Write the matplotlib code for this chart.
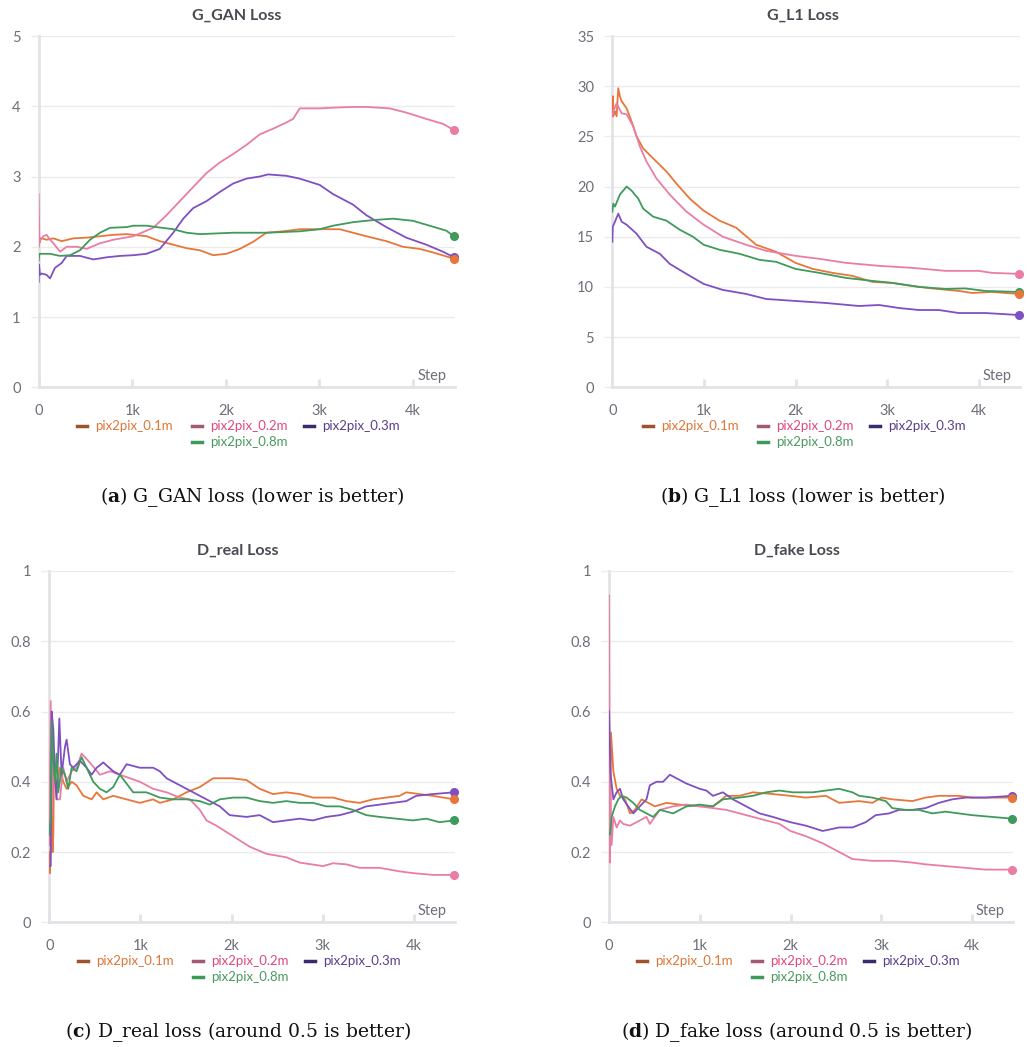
import matplotlib
matplotlib.use("Agg")
import matplotlib.pyplot as plt
from matplotlib.transforms import offset_copy
from matplotlib.lines import Line2D

plt.rcParams['font.family'] = ['Lato', 'DejaVu Sans']
plt.rcParams['mathtext.fontset'] = 'dejavuserif'

W, H = 1028, 1047

names = ["pix2pix_0.1m", "pix2pix_0.2m", "pix2pix_0.3m", "pix2pix_0.8m"]
line_colors = ["#E8763A", "#EA7DA5", "#7E50C2", "#3F9A5B"]
text_colors = ["#E07535", "#E0487E", "#5A3E8C", "#4A9A60"]
swatch_colors = ["#A0522D", "#A35875", "#3B2A6E", "#3E9A5A"]

# ---- G_GAN loss (step, value) ----
gan_01 = [(0, 2.0), (7, 2.12), (32, 2.12), (85, 2.1), (157, 2.12), (246, 2.08), (370, 2.12),
          (512, 2.13), (655, 2.15), (797, 2.17), (940, 2.18), (1011, 2.17), (1153, 2.15),
          (1295, 2.08), (1438, 2.03), (1580, 1.98), (1723, 1.95), (1865, 1.88), (2007, 1.9),
          (2150, 1.97), (2292, 2.07), (2434, 2.2), (2612, 2.22), (2790, 2.25), (3004, 2.25),
          (3217, 2.25), (3360, 2.2), (3502, 2.15), (3716, 2.08), (3894, 2.0), (4072, 1.97),
          (4214, 1.92), (4440, 1.83)]
gan_02 = [(0, 2.75), (7, 2.05), (21, 2.1), (50, 2.15), (85, 2.17), (121, 2.1), (157, 2.05),
          (228, 1.93), (299, 2.0), (406, 2.0), (512, 1.97), (655, 2.05), (797, 2.1), (1011, 2.15),
          (1224, 2.27), (1367, 2.45), (1509, 2.65), (1651, 2.85), (1794, 3.05), (1936, 3.2),
          (2078, 3.32), (2221, 3.45), (2363, 3.6), (2505, 3.68), (2648, 3.77), (2719, 3.82),
          (2790, 3.97), (3004, 3.97), (3146, 3.98), (3360, 3.99), (3502, 3.99), (3751, 3.97),
          (3929, 3.91), (4143, 3.82), (4321, 3.75), (4440, 3.66)]
gan_03 = [(0, 1.5), (3, 1.75), (14, 1.6), (32, 1.62), (85, 1.6), (121, 1.55), (174, 1.7),
          (246, 1.77), (299, 1.87), (441, 1.87), (584, 1.82), (726, 1.85), (868, 1.87),
          (1011, 1.88), (1153, 1.9), (1295, 1.97), (1438, 2.2), (1545, 2.4), (1651, 2.55),
          (1794, 2.65), (1936, 2.78), (2078, 2.9), (2221, 2.97), (2363, 3.0), (2452, 3.03),
          (2648, 3.01), (2790, 2.97), (3004, 2.88), (3146, 2.75), (3360, 2.6), (3502, 2.45),
          (3716, 2.28), (3929, 2.13), (4143, 2.03), (4321, 1.93), (4440, 1.85)]
gan_08 = [(0, 1.8), (7, 1.9), (50, 1.9), (121, 1.9), (228, 1.87), (335, 1.88), (441, 1.95),
          (548, 2.1), (655, 2.2), (762, 2.27), (940, 2.28), (1011, 2.3), (1153, 2.3),
          (1260, 2.28), (1438, 2.25), (1580, 2.2), (1723, 2.18), (2078, 2.2), (2434, 2.2),
          (2790, 2.22), (3004, 2.25), (3146, 2.3), (3360, 2.35), (3573, 2.38), (3787, 2.4),
          (4000, 2.37), (4178, 2.3), (4356, 2.23), (4440, 2.15)]

# ---- G_L1 loss ----
l1_01 = [(0, 27.0), (5, 29.0), (11, 27.0), (29, 27.5), (47, 27.0), (65, 29.8), (83, 29.0),
         (102, 28.5), (156, 27.8), (210, 26.5), (265, 25.0), (337, 23.8), (446, 22.8),
         (591, 21.5), (700, 20.3), (845, 18.8), (997, 17.6), (1171, 16.6), (1352, 15.9),
         (1570, 14.2), (1788, 13.5), (1998, 12.4), (2187, 11.8), (2404, 11.4), (2622, 11.1),
         (2839, 10.5), (3057, 10.4), (3274, 10.1), (3492, 9.85), (3782, 9.6), (3927, 9.4),
         (4145, 9.5), (4440, 9.3)]
l1_02 = [(0, 27.0), (11, 27.5), (47, 28.3), (102, 27.3), (156, 27.2), (228, 26.0), (301, 24.0),
         (373, 22.5), (482, 20.8), (627, 19.2), (809, 17.5), (997, 16.2), (1207, 15.0),
         (1461, 14.2), (1679, 13.6), (1998, 13.1), (2259, 12.8), (2549, 12.4), (2912, 12.1),
         (3274, 11.9), (3637, 11.6), (3999, 11.6), (4145, 11.4), (4440, 11.3)]
l1_03 = [(0, 14.5), (5, 16.0), (29, 16.5), (65, 17.3), (102, 16.5), (156, 16.2), (265, 15.3),
         (373, 14.0), (519, 13.3), (627, 12.3), (772, 11.5), (997, 10.3), (1207, 9.7),
         (1461, 9.3), (1679, 8.8), (1998, 8.6), (2332, 8.4), (2694, 8.1), (2912, 8.2),
         (3129, 7.9), (3347, 7.7), (3564, 7.7), (3782, 7.4), (4072, 7.4), (4440, 7.2)]
l1_08 = [(0, 17.5), (11, 18.3), (29, 18.0), (83, 19.2), (156, 20.0), (210, 19.6), (283, 18.8),
         (337, 17.8), (446, 17.0), (591, 16.6), (736, 15.7), (881, 15.0), (997, 14.2),
         (1171, 13.7), (1389, 13.3), (1606, 12.7), (1788, 12.5), (1998, 11.8), (2259, 11.4),
         (2549, 10.9), (2839, 10.6), (3057, 10.4), (3347, 10.0), (3637, 9.8), (3854, 9.85),
         (4072, 9.6), (4440, 9.5)]

# ---- D_real loss ----
dr_01 = [(0, 0.2), (7, 0.14), (15, 0.2), (26, 0.38), (37, 0.2), (44, 0.25), (51, 0.42),
         (80, 0.38), (117, 0.44), (153, 0.4), (190, 0.38), (245, 0.4), (299, 0.39), (373, 0.36),
         (464, 0.35), (519, 0.37), (592, 0.35), (701, 0.36), (847, 0.35), (993, 0.34),
         (1139, 0.35), (1212, 0.34), (1359, 0.35), (1505, 0.37), (1651, 0.385), (1797, 0.41),
         (2001, 0.41), (2162, 0.405), (2308, 0.38), (2454, 0.365), (2600, 0.37), (2746, 0.365),
         (2892, 0.355), (3112, 0.355), (3258, 0.345), (3404, 0.34), (3550, 0.35), (3696, 0.355),
         (3842, 0.36), (3915, 0.37), (4061, 0.365), (4207, 0.36), (4440, 0.35)]
dr_02 = [(0, 0.22), (15, 0.63), (26, 0.3), (44, 0.45), (80, 0.35), (117, 0.35), (153, 0.44),
         (190, 0.4), (245, 0.43), (299, 0.44), (354, 0.48), (427, 0.46), (555, 0.42), (665, 0.43),
         (774, 0.42), (884, 0.41), (993, 0.4), (1139, 0.38), (1286, 0.37), (1432, 0.355),
         (1541, 0.35), (1651, 0.32), (1724, 0.29), (1833, 0.275), (2016, 0.245), (2199, 0.215),
         (2381, 0.195), (2600, 0.185), (2746, 0.17), (3002, 0.16), (3112, 0.168), (3258, 0.165),
         (3404, 0.155), (3623, 0.155), (3842, 0.145), (3988, 0.14), (4207, 0.135), (4440, 0.135)]
dr_03 = [(0, 0.16), (15, 0.16), (26, 0.6), (44, 0.55), (62, 0.42), (80, 0.35), (110, 0.58),
         (135, 0.42), (172, 0.5), (190, 0.52), (226, 0.45), (263, 0.44), (336, 0.46), (409, 0.44),
         (464, 0.42), (519, 0.44), (592, 0.455), (701, 0.43), (774, 0.42), (847, 0.45),
         (993, 0.44), (1139, 0.44), (1212, 0.43), (1286, 0.41), (1432, 0.39), (1578, 0.37),
         (1724, 0.35), (1870, 0.33), (1979, 0.305), (2162, 0.30), (2308, 0.305), (2454, 0.285),
         (2600, 0.29), (2746, 0.295), (2892, 0.29), (3039, 0.30), (3185, 0.305), (3331, 0.315),
         (3477, 0.33), (3623, 0.335), (3769, 0.34), (3915, 0.345), (4025, 0.36), (4207, 0.365),
         (4440, 0.37)]
dr_08 = [(0, 0.25), (15, 0.3), (26, 0.57), (44, 0.45), (62, 0.4), (80, 0.48), (99, 0.37),
         (135, 0.44), (172, 0.42), (208, 0.38), (245, 0.44), (299, 0.43), (354, 0.47),
         (409, 0.44), (482, 0.4), (555, 0.38), (628, 0.37), (701, 0.385), (774, 0.42),
         (847, 0.395), (920, 0.37), (1066, 0.37), (1212, 0.355), (1359, 0.35), (1505, 0.35),
         (1651, 0.345), (1760, 0.335), (1870, 0.35), (2016, 0.355), (2162, 0.355), (2308, 0.345),
         (2454, 0.34), (2600, 0.345), (2746, 0.34), (2892, 0.34), (3039, 0.33), (3185, 0.33),
         (3331, 0.32), (3477, 0.305), (3623, 0.3), (3805, 0.295), (3988, 0.29), (4134, 0.295),
         (4280, 0.285), (4440, 0.29)]

# ---- D_fake loss ----
df_01 = [(0, 0.2), (11, 0.2), (22, 0.54), (48, 0.43), (84, 0.38), (121, 0.36), (176, 0.35),
         (231, 0.31), (285, 0.32), (359, 0.35), (432, 0.34), (505, 0.33), (633, 0.34),
         (779, 0.335), (999, 0.33), (1145, 0.33), (1292, 0.36), (1438, 0.36), (1584, 0.37),
         (1804, 0.365), (1998, 0.36), (2169, 0.355), (2389, 0.36), (2536, 0.34), (2755, 0.345),
         (2902, 0.34), (3000, 0.355), (3121, 0.35), (3341, 0.345), (3487, 0.355), (3633, 0.36),
         (3853, 0.36), (3999, 0.355), (4219, 0.355), (4440, 0.355)]
df_02 = [(0, 0.93), (11, 0.17), (14, 0.38), (29, 0.22), (48, 0.3), (84, 0.27), (121, 0.29),
         (157, 0.28), (231, 0.275), (340, 0.29), (413, 0.3), (450, 0.28), (560, 0.32),
         (706, 0.33), (853, 0.335), (999, 0.33), (1145, 0.325), (1292, 0.32), (1438, 0.31),
         (1584, 0.3), (1731, 0.29), (1877, 0.28), (1998, 0.26), (2169, 0.245), (2353, 0.225),
         (2536, 0.2), (2682, 0.18), (2902, 0.175), (3121, 0.175), (3341, 0.17), (3487, 0.165),
         (3707, 0.16), (3926, 0.155), (4146, 0.15), (4440, 0.15)]
df_03 = [(0, 0.6), (18, 0.42), (48, 0.35), (84, 0.37), (121, 0.38), (157, 0.35), (212, 0.33),
         (267, 0.31), (340, 0.33), (413, 0.35), (450, 0.39), (523, 0.4), (596, 0.4), (670, 0.42),
         (743, 0.41), (853, 0.395), (999, 0.38), (1072, 0.375), (1145, 0.36), (1255, 0.37),
         (1365, 0.35), (1511, 0.33), (1658, 0.31), (1804, 0.3), (1998, 0.285), (2169, 0.275),
         (2353, 0.26), (2536, 0.27), (2682, 0.27), (2828, 0.285), (2938, 0.305), (3085, 0.31),
         (3194, 0.32), (3341, 0.32), (3487, 0.325), (3633, 0.34), (3780, 0.35), (3926, 0.355),
         (4146, 0.355), (4440, 0.36)]
df_08 = [(0, 0.25), (11, 0.25), (29, 0.3), (66, 0.33), (102, 0.35), (139, 0.36), (194, 0.355),
         (267, 0.34), (340, 0.32), (413, 0.31), (487, 0.3), (560, 0.32), (706, 0.31),
         (853, 0.33), (999, 0.335), (1145, 0.33), (1255, 0.35), (1438, 0.355), (1584, 0.36),
         (1731, 0.37), (1877, 0.375), (2023, 0.37), (2243, 0.37), (2389, 0.375), (2536, 0.38),
         (2682, 0.37), (2755, 0.36), (2902, 0.355), (3048, 0.345), (3121, 0.325), (3268, 0.32),
         (3414, 0.32), (3560, 0.31), (3707, 0.315), (3853, 0.31), (3999, 0.305), (4219, 0.3),
         (4440, 0.295)]

xticks = [0, 1000, 2000, 3000, 4000]
xtick_labels = ["0", "1k", "2k", "3k", "4k"]

panels = [
    dict(title="G_GAN Loss", series=[gan_01, gan_02, gan_03, gan_08],
         yticks=[0, 1, 2, 3, 4, 5], ylabels=["0", "1", "2", "3", "4", "5"],
         rect=(38.7, 36, 455, 387.3), cx=237,
         caption=r"($\mathbf{a}$) G_GAN loss (lower is better)", capx=252, capy=497),
    dict(title="G_L1 Loss", series=[l1_01, l1_02, l1_03, l1_08],
         yticks=[0, 5, 10, 15, 20, 25, 30, 35], ylabels=["0", "5", "10", "15", "20", "25", "30", "35"],
         rect=(612.3, 36, 1020, 387.3), cx=803,
         caption=r"($\mathbf{b}$) G_L1 loss (lower is better)", capx=803, capy=497),
    dict(title="D_real Loss", series=[dr_01, dr_02, dr_03, dr_08],
         yticks=[0, 0.2, 0.4, 0.6, 0.8, 1], ylabels=["0", "0.2", "0.4", "0.6", "0.8", "1"],
         rect=(49.3, 571, 455, 922.3), cx=238,
         caption=r"($\mathbf{c}$) D_real loss (around 0.5 is better)", capx=238, capy=1032),
    dict(title="D_fake Loss", series=[df_01, df_02, df_03, df_08],
         yticks=[0, 0.2, 0.4, 0.6, 0.8, 1], ylabels=["0", "0.2", "0.4", "0.6", "0.8", "1"],
         rect=(609, 571, 1013, 922.3), cx=797,
         caption=r"($\mathbf{d}$) D_fake loss (around 0.5 is better)", capx=797, capy=1032),
]

grid_c = "#ebebee"
axis_c = "#e3e3e7"
tick_txt = "#6f6f79"


def fx(px):
    return px / W


def fy(py):
    return 1 - py / H


fig = plt.figure(figsize=(W / 100, H / 100), dpi=100)

for p in panels:
    x0, y0, x1, y1 = p["rect"]
    ax = fig.add_axes([fx(x0), fy(y1), (x1 - x0) / W, (y1 - y0) / H])
    # draw order: purple, green, orange, pink
    for k in [2, 3, 0, 1]:
        s = p["series"][k]
        xs = [a for a, b in s]
        ys = [b for a, b in s]
        ax.plot(xs, ys, color=line_colors[k], lw=1.3, zorder=3 + k * 0.1, solid_joinstyle="round")
        ax.plot(xs[-1:], ys[-1:], "o", color=line_colors[k], ms=5.5, zorder=4, clip_on=False)

    ax.set_xlim(0, 4450)
    ax.set_ylim(p["yticks"][0], p["yticks"][-1])
    ax.set_xticks(xticks)
    ax.set_xticklabels(xtick_labels)
    ax.set_yticks(p["yticks"])
    ax.set_yticklabels(p["ylabels"])
    ax.grid(axis="y", color=grid_c, lw=1.0)
    ax.set_axisbelow(True)
    for side in ["top", "right"]:
        ax.spines[side].set_visible(False)
    ax.spines["left"].set_color(axis_c)
    ax.spines["left"].set_linewidth(2.0)
    ax.spines["bottom"].set_color(axis_c)
    ax.spines["bottom"].set_linewidth(2.0)
    ax.tick_params(axis="x", direction="in", length=6, width=2, color=axis_c,
                   labelsize=10.5, labelcolor=tick_txt, pad=12)
    ax.tick_params(axis="y", direction="out", length=6, width=1, color=grid_c,
                   labelsize=10.5, labelcolor=tick_txt, pad=7)

    tr = offset_copy(ax.transAxes, fig=fig, x=-8, y=11, units="dots")
    ax.text(1, 0, "Step", transform=tr, ha="right", va="center", fontsize=10.5, color=tick_txt)

    cx = p["cx"]
    fig.text(fx(cx), fy(y0 - 20), p["title"], ha="center", va="center",
             fontsize=11.5, fontweight="bold", color="#4a4a52")

    # legend: row 1 -> 0.1m, 0.2m, 0.3m ; row 2 -> 0.8m under 0.2m
    row1 = y1 + 39
    row2 = y1 + 55
    spots = [(-160, row1), (-45, row1), (67, row1), (-45, row2)]
    for k, (dx, ry) in enumerate(spots):
        fig.add_artist(Line2D([fx(cx + dx), fx(cx + dx + 10)], [fy(ry), fy(ry)],
                              transform=fig.transFigure, color=swatch_colors[k], lw=2.5))
        fig.text(fx(cx + dx + 18), fy(ry), names[k], ha="left", va="center",
                 fontsize=9.5, color=text_colors[k])

    fig.text(fx(p["capx"]), fy(p["capy"]), p["caption"], ha="center", va="center",
             fontsize=13.5, family="DejaVu Serif", color="#111111")

fig.savefig("out.png", dpi=100, facecolor="white")
